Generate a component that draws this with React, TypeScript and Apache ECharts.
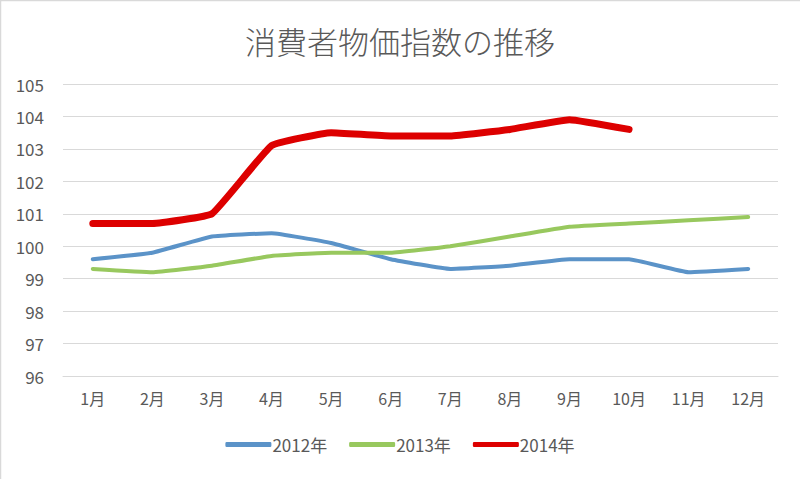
import React, { useEffect, useRef } from "react";
import * as echarts from "echarts";

const months = ["1月", "2月", "3月", "4月", "5月", "6月", "7月", "8月", "9月", "10月", "11月", "12月"];
const s2012 = [99.6, 99.8, 100.3, 100.4, 100.1, 99.6, 99.3, 99.4, 99.6, 99.6, 99.2, 99.3];
const s2013 = [99.3, 99.2, 99.4, 99.7, 99.8, 99.8, 100.0, 100.3, 100.6, 100.7, 100.8, 100.9];
const s2014 = [100.7, 100.7, 101.0, 103.1, 103.5, 103.4, 103.4, 103.6, 103.9, 103.6];
const seriesNames = ["2012年", "2013年", "2014年"];
const titleText = "消費者物価指数の推移";

const FONT = "'Noto Sans CJK JP', 'Noto Sans', sans-serif";

export default function App() {
  const ref = useRef<HTMLDivElement>(null);
  useEffect(() => {
    document.body.style.margin = "0";
    const chart = echarts.init(ref.current!, null, { renderer: "svg" });
    chart.setOption({
      animation: false,
      backgroundColor: "#ffffff",
      textStyle: { fontFamily: FONT },
      title: {
        text: titleText,
        left: "center",
        top: 20,
        textStyle: { fontSize: 31, fontWeight: 300, color: "#595959", fontFamily: FONT },
      },
      graphic: [
        {
          type: "rect",
          shape: { x: 0.5, y: 0.5, width: 1000, height: 1000 },
          style: { fill: "none", stroke: "#d9d9d9", lineWidth: 1.5 },
          silent: true,
        },
      ],
      legend: {
        bottom: 21,
        left: "center",
        itemWidth: 46,
        itemHeight: 5,
        itemGap: 22,
        icon: "roundRect",
        textStyle: { fontSize: 17, color: "#595959", fontFamily: FONT, padding: [0, 0, 0, -4] },
        data: seriesNames,
      },
      grid: { left: 63, right: 22, top: 84, bottom: 103 },
      xAxis: {
        type: "category",
        data: months,
        boundaryGap: true,
        axisLine: { show: true, lineStyle: { color: "#d9d9d9", width: 1 } },
        axisTick: { show: false },
        axisLabel: { color: "#595959", fontSize: 16, margin: 14, fontFamily: FONT },
      },
      yAxis: {
        type: "value",
        min: 96,
        max: 105,
        interval: 1,
        axisLine: { show: false },
        axisTick: { show: false },
        axisLabel: { color: "#595959", fontSize: 17, margin: 19, fontFamily: FONT },
        splitLine: { lineStyle: { color: "#d9d9d9", width: 1 } },
      },
      series: [
        {
          name: seriesNames[0],
          type: "line",
          data: s2012,
          symbol: "none",
          smooth: 0.1,
          itemStyle: { color: "#5b93c8" },
          lineStyle: { color: "#5b93c8", width: 4, join: "round", cap: "round" },
        },
        {
          name: seriesNames[1],
          type: "line",
          data: s2013,
          symbol: "none",
          smooth: 0.1,
          itemStyle: { color: "#98c85e" },
          lineStyle: { color: "#98c85e", width: 4, join: "round", cap: "round" },
        },
        {
          name: seriesNames[2],
          type: "line",
          data: s2014,
          symbol: "none",
          smooth: 0.1,
          itemStyle: { color: "#dd0000" },
          lineStyle: { color: "#dd0000", width: 7, join: "round", cap: "round" },
        },
      ],
    });
    return () => chart.dispose();
  }, []);
  return <div ref={ref} style={{ width: 800, height: 479 }} />;
}
